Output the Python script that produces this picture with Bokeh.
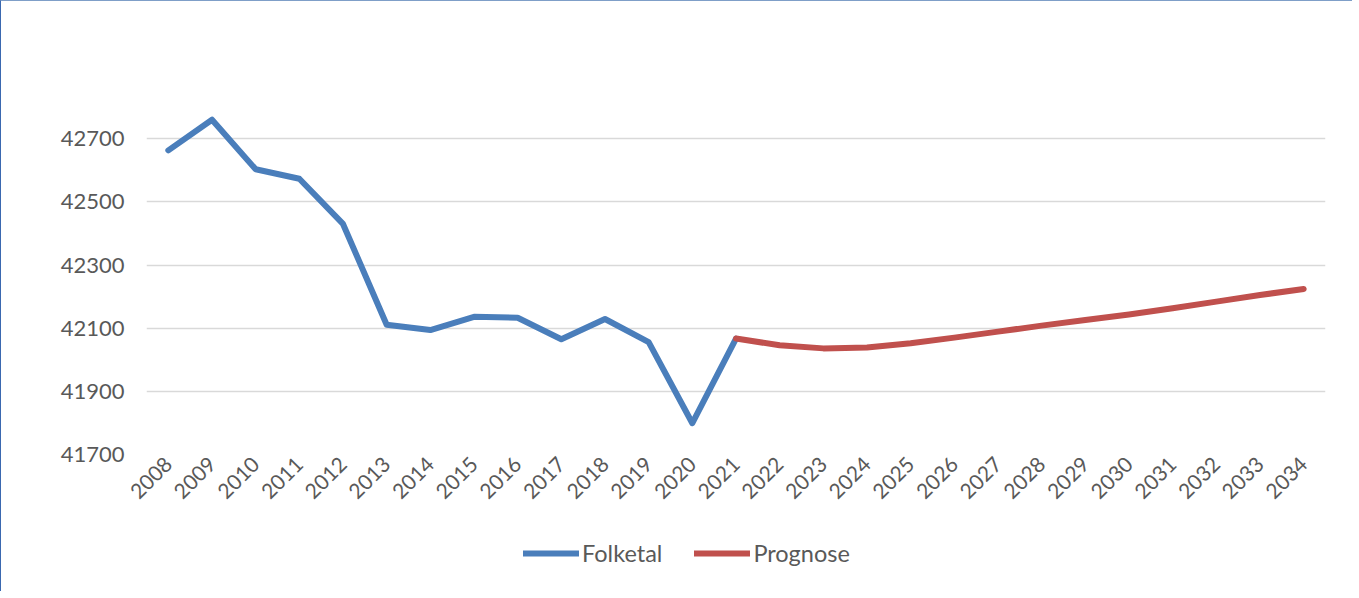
from bokeh.plotting import figure
from bokeh.models import (FactorRange, Range1d, FixedTicker, Legend, LegendItem,
                          ColumnDataSource)
from bokeh.layouts import column
from bokeh.embed import file_html
from bokeh.resources import INLINE
import math

years = [str(y) for y in range(2008, 2035)]
folk_years = [str(y) for y in range(2008, 2022)]
folketal = [42663, 42760, 42603, 42573, 42430, 42111, 42094, 42136, 42133,
            42065, 42129, 42056, 41799, 42067]
prog_years = [str(y) for y in range(2021, 2035)]
prognose = [42067, 42046, 42036, 42039, 42052, 42070, 42089, 42108, 42126,
            42143, 42163, 42184, 42205, 42224]
y_ticks = [41700, 41900, 42100, 42300, 42500, 42700]
series_names = ["Folketal", "Prognose"]
series_colors = ["#4a7ebb", "#c0504d"]

FONT = "Lato"
TXT = "#595959"
LW = 6

p = figure(width=1351, height=530, output_backend="svg", toolbar_location=None,
           x_range=FactorRange(factors=years, range_padding=0),
           y_range=Range1d(41700, 42900),
           min_border_left=145, min_border_right=27,
           min_border_top=74, min_border_bottom=77)
p.outline_line_color = None
p.background_fill_color = "white"
p.border_fill_color = "white"

src1 = ColumnDataSource(dict(x=folk_years, y=folketal))
src2 = ColumnDataSource(dict(x=prog_years, y=prognose))
sources = [src1, src2]
for src, col in zip(sources, series_colors):
    p.line("x", "y", source=src, line_color=col, line_width=LW,
           line_cap="round", line_join="round")

p.xgrid.grid_line_color = None
p.ygrid.ticker = FixedTicker(ticks=y_ticks)
p.ygrid.grid_line_color = "#d9d9d9"
p.ygrid.grid_line_width = 1.5

p.yaxis.ticker = FixedTicker(ticks=y_ticks)
p.yaxis.axis_line_color = None
p.yaxis.major_tick_line_color = None
p.yaxis.minor_tick_line_color = None
p.yaxis.major_tick_out = 0
p.yaxis.major_tick_in = 0
p.yaxis.major_label_standoff = 22
p.yaxis.major_label_text_font = FONT
p.yaxis.major_label_text_font_size = "22px"
p.yaxis.major_label_text_color = TXT

p.xaxis.axis_line_color = None
p.xaxis.major_tick_line_color = None
p.xaxis.major_tick_out = 0
p.xaxis.major_tick_in = 0
p.xaxis.major_label_orientation = math.pi / 4
p.xaxis.major_label_standoff = 6
p.xaxis.major_label_text_font = FONT
p.xaxis.major_label_text_font_size = "21px"
p.xaxis.major_label_text_color = TXT

# legend strip below the chart (same series, drawn outside its view range)
lg = figure(width=1351, height=60, output_backend="svg", toolbar_location=None,
            x_range=p.x_range, y_range=Range1d(0, 1),
            min_border_left=145, min_border_right=27, min_border_top=0,
            min_border_bottom=0)
lg.axis.visible = False
lg.grid.visible = False
lg.outline_line_color = None
lg.border_fill_color = "white"
lg.background_fill_color = "white"
items = []
for name, src, col in zip(series_names, sources, series_colors):
    r = lg.line("x", "y", source=src, line_color=col, line_width=LW,
                line_cap="round")
    items.append(LegendItem(label=name, renderers=[r]))
legend = Legend(items=items, orientation="horizontal", location=(377, 24),
                glyph_width=56, glyph_height=20, label_height=20,
                label_standoff=3, spacing=32, padding=0, margin=0,
                border_line_color=None, background_fill_alpha=0,
                label_text_font=FONT, label_text_font_size="23.5px",
                label_text_color=TXT)
lg.add_layout(legend)

layout = column(p, lg, spacing=0)
layout.styles = {"border-top": "1px solid #7f9fc8", "border-left": "1px solid #3a68b0"}

open("out.html", "w").write(file_html(layout, INLINE))
